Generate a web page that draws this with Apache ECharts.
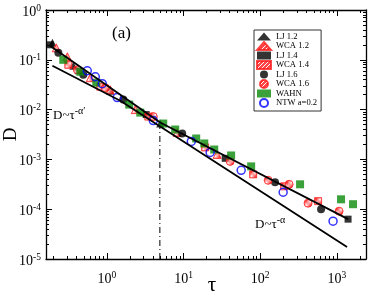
<!DOCTYPE html>
<html><head><meta charset="utf-8">
<script src="https://cdn.jsdelivr.net/npm/echarts@6/dist/echarts.min.js"></script>
<style>html,body{margin:0;padding:0;background:#fff}#c{width:374px;height:296px}</style>
</head><body><div id="c"></div>
<script>
// ---- data ----
const ljTau12 = [0.194, 0.364, 1.10, 4.95];
const ljD12   = [0.219, 0.0759, 0.024, 0.00525];
const wcaTau12 = [0.218, 0.304, 0.606, 1.10, 2.34, 8.25, 27.4];
const wcaD12   = [0.174, 0.115, 0.0437, 0.0251, 0.0100, 0.00347, 0.00126];
const ljTau14 = [0.182, 0.422, 3.25, 34.9, 1400];
const ljD14   = [0.200, 0.0603, 0.00794, 0.00105, 6.31e-5];
const wcaTau14 = [0.313, 0.818, 3.46, 19.1, 80.8, 205, 569];
const wcaD14   = [0.0794, 0.0288, 0.00724, 0.00174, 0.000501, 0.000288, 0.000145];
const ljTau16 = [0.232, 0.491, 1.63, 9.59, 156, 622];
const ljD16   = [0.138, 0.0501, 0.0159, 0.00331, 0.000347, 0.000100];
const wcaTau16 = [0.410, 0.950, 4.02, 40.5, 127, 238, 421, 1069];
const wcaD16   = [0.0631, 0.0275, 0.00724, 0.000912, 0.000380, 0.000316, 0.000132, 9.12e-5];
const wahnTau = [0.269, 0.449, 0.725, 1.95, 2.72, 5.42, 7.77, 14.6, 18.6, 25.1, 41.7, 76.1, 331, 1134, 1626];
const wahnD   = [0.100, 0.0575, 0.0347, 0.0126, 0.00871, 0.00525, 0.00398, 0.00263, 0.00209, 0.00158, 0.00120, 0.000724, 0.000316, 0.000158, 0.000126];
const ntwTau = [0.553, 0.704, 0.868, 1.36, 4.02, 12.6, 22.2, 56.4, 199, 892];
const ntwD   = [0.0603, 0.0457, 0.0331, 0.0174, 0.00603, 0.00229, 0.00138, 0.000603, 0.000219, 5.75e-5];
const fitTau = [0.182, 4.95, 1400];
const fitD   = [0.19, 0.0055, 6.31e-5];
const guideTau = [0.194, 1.49, 1358];
const guideD   = [0.0759, 0.0151, 1.74e-5];
const crossTau = [4.9, 4.9];
const crossD   = [1e-5, 0.00457];
const seriesNames = ['LJ 1.2', 'WCA 1.2', 'LJ 1.4', 'WCA 1.4', 'LJ 1.6', 'WCA 1.6', 'WAHN', 'NTW a=0.2'];
const X_MIN = 0.16, X_MAX = 2400, Y_MIN = 1e-5, Y_MAX = 1;
const xMinorTicks = [0.2,0.3,0.4,0.5,0.6,0.7,0.8,0.9,2,3,4,5,6,7,8,9,20,30,40,50,60,70,80,90,200,300,400,500,600,700,800,900,2000];
const yMinorTicks = [2e-5,3e-5,4e-5,5e-5,6e-5,7e-5,8e-5,9e-5,2e-4,3e-4,4e-4,5e-4,6e-4,7e-4,8e-4,9e-4,2e-3,3e-3,4e-3,5e-3,6e-3,7e-3,8e-3,9e-3,0.02,0.03,0.04,0.05,0.06,0.07,0.08,0.09,0.2,0.3,0.4,0.5,0.6,0.7,0.8,0.9];

const zip = (a, b) => a.map((v, i) => [v, b[i]]);
const FONT = 'Liberation Serif';

function hatch() {
  const c = document.createElement('canvas');
  c.width = 4; c.height = 4;
  const g = c.getContext('2d');
  g.fillStyle = '#ff1a1a'; g.fillRect(0, 0, 4, 4);
  g.strokeStyle = '#ffffff'; g.lineWidth = 1;
  g.beginPath();
  g.moveTo(-1, 5); g.lineTo(5, -1);
  g.moveTo(-1, 1); g.lineTo(1, -1);
  g.moveTo(3, 5); g.lineTo(5, 3);
  g.stroke();
  return { image: c, repeat: 'repeat' };
}
const HATCH = hatch();

const rich = {
  b: { fontFamily: FONT, fontSize: 14, color: '#000', lineHeight: 14, padding: [4, 0, 0, 0] },
  s: { fontFamily: FONT, fontSize: 9.5, color: '#000', lineHeight: 9, verticalAlign: 'top' }
};
function powLabel(v) {
  const e = Math.round(Math.log10(v));
  return '{b|10}{s|' + (e < 0 ? '-' + (-e) : e) + '}';
}
const black = '#000';
function majorAxis(pos, withLabels, min, max, showEnds) {
  return {
    type: 'log', logBase: 10, min: min, max: max, position: pos,
    axisLine: { show: true, onZero: false, lineStyle: { color: black, width: 1.3 } },
    axisTick: { show: true, inside: true, length: 6, lineStyle: { color: black, width: 1 } },
    axisLabel: { show: withLabels, showMinLabel: !!showEnds, showMaxLabel: !!showEnds, margin: 6, formatter: powLabel, rich: rich },
    splitLine: { show: false }, minorTick: { show: false }
  };
}
function minorAxis(pos, min, max, ticks) {
  return {
    type: 'log', logBase: 10, min: min, max: max, position: pos,
    axisLine: { show: false },
    axisTick: { show: true, inside: true, length: 3, customValues: ticks, lineStyle: { color: black, width: 1 } },
    axisLabel: { show: false }, splitLine: { show: false }
  };
}
const xMain = majorAxis('bottom', true, X_MIN, X_MAX, false);
xMain.axisLabel.margin = 11;
xMain.name = 'τ'; xMain.nameLocation = 'middle'; xMain.nameGap = 16; xMain.nameMoveOverlap = false;
xMain.nameTextStyle = { fontFamily: FONT, fontSize: 21, color: black, padding: [0, 0, 0, 12] };
const yMain = majorAxis('left', true, Y_MIN, Y_MAX, true);
yMain.axisLabel.margin = 5;
yMain.name = 'D'; yMain.nameLocation = 'middle'; yMain.nameGap = 25; yMain.nameMoveOverlap = false;
yMain.nameTextStyle = { fontFamily: FONT, fontSize: 19, color: black };

function scatter(name, tau, d, symbol, size, style) {
  return { type: 'scatter', name: name, xAxisIndex: 0, yAxisIndex: 0, symbol: symbol, symbolSize: size,
    data: zip(tau, d), itemStyle: style, z: 3 };
}
function line(tau, d, style) {
  return { type: 'line', xAxisIndex: 0, yAxisIndex: 0, data: zip(tau, d), symbol: 'none', silent: true,
    lineStyle: style, z: 4 };
}
const redStyle = { color: HATCH, borderColor: '#ff1a1a', borderWidth: 1 };

const option = {
  animation: false,
  backgroundColor: '#fff',
  grid: { left: 46, right: 8, top: 10, bottom: 37, containLabel: false, outerBoundsMode: 'none' },
  xAxis: [xMain, minorAxis('bottom', X_MIN, X_MAX, xMinorTicks), majorAxis('top', false, X_MIN, X_MAX), minorAxis('top', X_MIN, X_MAX, xMinorTicks)],
  yAxis: [yMain, minorAxis('left', Y_MIN, Y_MAX, yMinorTicks), majorAxis('right', false, Y_MIN, Y_MAX), minorAxis('right', Y_MIN, Y_MAX, yMinorTicks)],
  legend: {
    data: seriesNames, orient: 'vertical', left: 254, top: 30,
    itemWidth: 14, itemHeight: 8, itemGap: 0, padding: [2, 4, 3, 2],
    borderColor: '#333', borderWidth: 1, backgroundColor: '#fff',
    textStyle: { fontFamily: FONT, fontSize: 8.6, color: '#000', lineHeight: 8, height: 8 }
  },
  graphic: [
    { type: 'text', left: 112, top: 25, style: { text: '(a)', fontFamily: FONT, fontSize: 17, fill: '#000' } },
    { type: 'text', left: 53, top: 104, style: { text: '{m|D~τ}{s|-α′}', rich: {
      m: { fontFamily: FONT, fontSize: 13, lineHeight: 13, padding: [5, 0, 0, 0], color: '#000' },
      s: { fontFamily: FONT, fontSize: 10, lineHeight: 10, verticalAlign: 'top', color: '#000' } } } },
    { type: 'text', left: 255, top: 213, style: { text: '{m|D~τ}{s|-α}', rich: {
      m: { fontFamily: FONT, fontSize: 13, lineHeight: 13, padding: [5, 0, 0, 0], color: '#000' },
      s: { fontFamily: FONT, fontSize: 10, lineHeight: 10, verticalAlign: 'top', color: '#000' } } } }
  ],
  series: [
    line(fitTau, fitD, { color: black, width: 1.8 }),
    line(guideTau, guideD, { color: black, width: 1.8 }),
    line(crossTau, crossD, { color: black, width: 1, type: [6, 3, 1, 3] }),
    scatter('LJ 1.2', ljTau12, ljD12, 'triangle', 8, { color: black }),
    scatter('WCA 1.2', wcaTau12, wcaD12, 'triangle', 8, redStyle),
    scatter('LJ 1.4', ljTau14, ljD14, 'rect', 7, { color: black }),
    scatter('WCA 1.4', wcaTau14, wcaD14, 'rect', 7, redStyle),
    scatter('LJ 1.6', ljTau16, ljD16, 'circle', 8, { color: black }),
    scatter('WCA 1.6', wcaTau16, wcaD16, 'circle', 8, redStyle),
    scatter('WAHN', wahnTau, wahnD, 'rect', 8, { color: '#0a8a0a' }),
    scatter('NTW a=0.2', ntwTau, ntwD, 'circle', 8, { color: 'rgba(255,255,255,0)', borderColor: '#0000ff', borderWidth: 1.5 })
  ]
};
const chart = echarts.init(document.getElementById('c'), null, { renderer: 'canvas' });
chart.setOption(option);
</script></body></html>
